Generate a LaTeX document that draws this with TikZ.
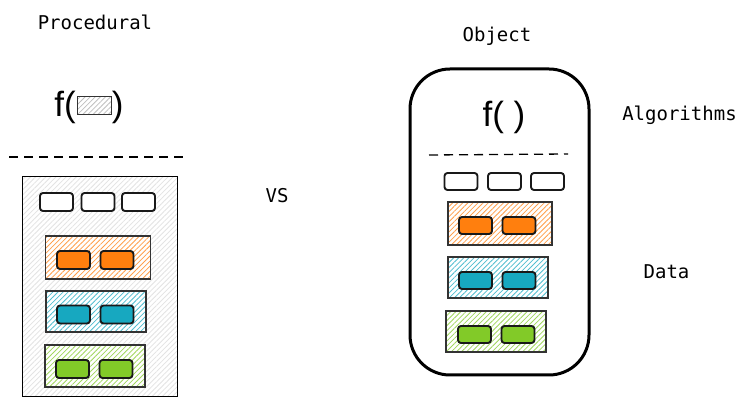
\documentclass[tikz,border=0pt]{standalone}
\usepackage{fontspec}
\setmonofont{DejaVu Sans Mono}
\newfontfamily\funcfont{Liberation Sans}
\usetikzlibrary{patterns.meta}

\definecolor{slotorange}{HTML}{FF7F0E}
\definecolor{slotcyan}{HTML}{17A8C0}
\definecolor{slotgreen}{HTML}{82CA28}

\begin{document}
\begin{tikzpicture}[x=1pt, y=-1pt,
		word/.style={font=\ttfamily\fontsize{19}{19}\selectfont, anchor=base, inner sep=0pt},
		func/.style={font=\funcfont\fontsize{35}{35}\selectfont, anchor=base, inner sep=0pt},
		hatch/.style={preaction={fill=white}, pattern={Lines[angle=45, distance=3.6pt, line width=0.8pt]}, pattern color=#1},
		holder/.style={draw=black!80, line width=1.3pt, inner sep=0pt, hatch=#1},
		slot/.style={draw=black!90, rounded corners=3pt, line width=1.9pt, minimum width=33pt, minimum height=18pt, inner sep=0pt, fill=#1},
		divider/.style={line width=1.3pt, dash pattern=on 9pt off 6pt}]
			\useasboundingbox (0, 0) rectangle (748, 406);
			
			% procedural side
			\node[word] (procTitle) at (95, 29.5) {Procedural};
			\node[func] (procFunc) at (89, 117) {f(\hspace{36pt})};
			\draw[line width=1pt, draw=black!80, hatch=black!25] (77, 97) rectangle (111, 115);
			\coordinate (procDashL) at (9, 157);
			\coordinate (procDashR) at (186, 157);
			\draw[divider] (procDashL) -- (procDashR);
			
			\node[holder=black!11, draw=black, line width=1pt, minimum width=155pt, minimum height=220pt] (procBody) at (99.5, 287) {};
			\node[slot=white] (procSlotA) at (56.5, 202) {};
			\node[slot=white] (procSlotB) at (98, 202) {};
			\node[slot=white] (procSlotC) at (138.5, 202) {};
			
			\node[holder=slotorange!75, minimum width=105pt, minimum height=43pt] (procOrange) at (98, 257.5) {};
			\node[slot=slotorange] (procOrangeA) at (73.5, 260) {};
			\node[slot=slotorange] (procOrangeB) at (117, 260) {};
			
			\node[holder=slotcyan!75, minimum width=100pt, minimum height=41pt] (procCyan) at (96, 311.5) {};
			\node[slot=slotcyan] (procCyanA) at (73.5, 314.5) {};
			\node[slot=slotcyan] (procCyanB) at (117, 314.5) {};
			
			\node[holder=slotgreen!75, minimum width=100pt, minimum height=42pt] (procGreen) at (95, 366) {};
			\node[slot=slotgreen] (procGreenA) at (72.5, 369) {};
			\node[slot=slotgreen] (procGreenB) at (116, 369) {};
			
			\node[word] (versus) at (277, 203) {VS};
			
			% object side
			\node[word] (objTitle) at (497, 42) {Object};
			\node[draw, line width=3pt, rounded corners=40pt, minimum width=179pt, minimum height=306pt] (objBody) at (499.5, 222) {};
			\node[func] (objFunc) at (504, 127) {f( )};
			\coordinate (objDashL) at (429, 155);
			\coordinate (objDashR) at (568, 154);
			\draw[divider] (objDashL) -- (objDashR);
			
			\node[slot=white, minimum height=17pt] (objSlotA) at (461, 181.5) {};
			\node[slot=white, minimum height=17pt] (objSlotB) at (504.5, 181.5) {};
			\node[slot=white, minimum height=17pt] (objSlotC) at (547.5, 181.5) {};
			
			\node[holder=slotorange!75, minimum width=104pt, minimum height=43pt] (objOrange) at (500, 223.5) {};
			\node[slot=slotorange, minimum height=17pt] (objOrangeA) at (475.5, 225.5) {};
			\node[slot=slotorange, minimum height=17pt] (objOrangeB) at (519, 225.5) {};
			
			\node[holder=slotcyan!75, minimum width=100pt, minimum height=41pt] (objCyan) at (498, 277.5) {};
			\node[slot=slotcyan, minimum height=17pt] (objCyanA) at (475.5, 280.5) {};
			\node[slot=slotcyan, minimum height=17pt] (objCyanB) at (519, 280.5) {};
			
			\node[holder=slotgreen!75, minimum width=100pt, minimum height=41pt] (objGreen) at (496, 331.5) {};
			\node[slot=slotgreen, minimum height=17pt] (objGreenA) at (474.5, 334.5) {};
			\node[slot=slotgreen, minimum height=17pt] (objGreenB) at (518, 334.5) {};
			
			\node[word] (algLabel) at (679.5, 120.5) {Algorithms};
			\node[word] (dataLabel) at (666.5, 278.5) {Data};
			
		\end{tikzpicture}
\end{document}
